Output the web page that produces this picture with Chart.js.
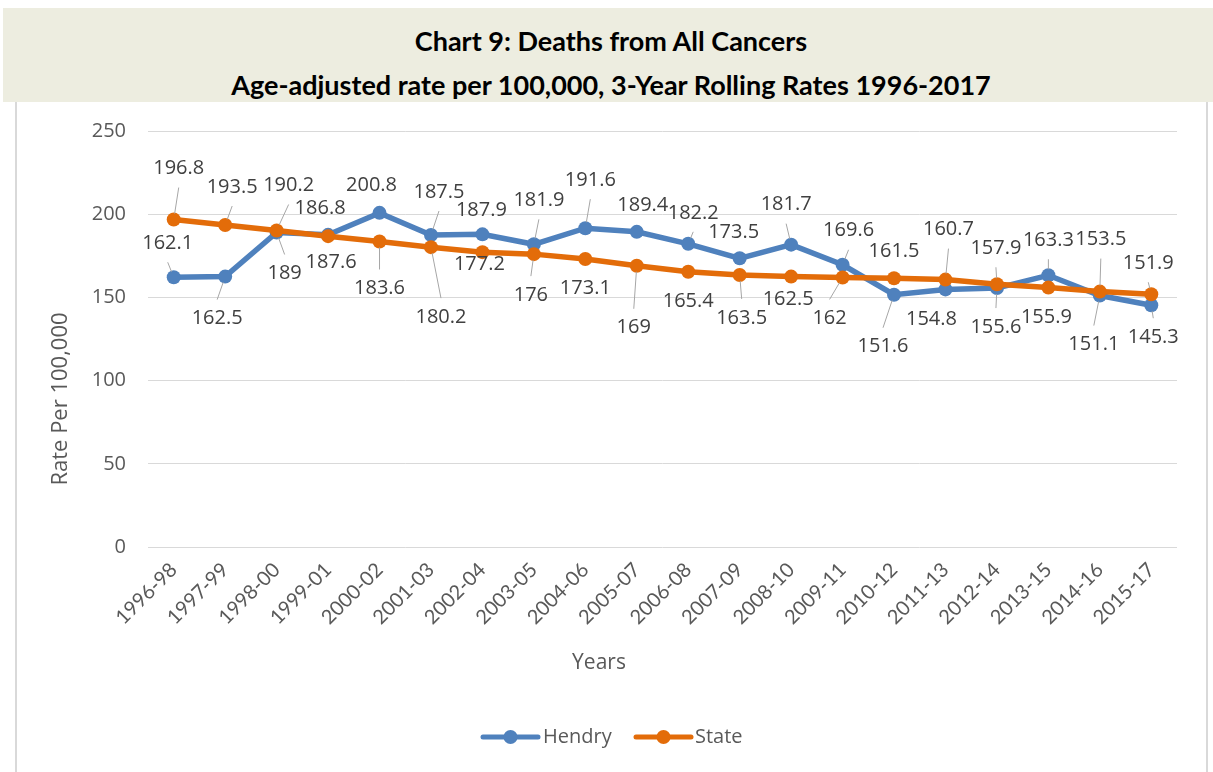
<!DOCTYPE html>
<html>
<head>
<meta charset="utf-8">
<script src="https://cdn.jsdelivr.net/npm/chart.js@4.4.0/dist/chart.umd.min.js"></script>
<style>
  body { margin: 0; background: #fff; }
  #band { position: absolute; left: 3px; top: 8px; width: 1210px; height: 94px; background: #EDEDE0; }
  #frame { position: absolute; left: 15px; top: 102px; width: 1189px; height: 680px; border: 2px solid #D9D9D9; border-top: none; }
  .title { position: absolute; left: 0; width: 1222px; text-align: center; font-family: Lato, "Open Sans", sans-serif; font-weight: bold; font-size: 27px; line-height: 32px; color: #000; }
  #myChart { position: absolute; left: 0; top: 0; }
</style>
</head>
<body>
<div id="band"></div>
<div id="frame"></div>
<div class="title" style="top:25px">Chart 9: Deaths from All Cancers</div>
<div class="title" style="top:69px">Age-adjusted rate per 100,000, 3-Year Rolling Rates 1996-2017</div>
<canvas id="myChart" width="1213" height="772"></canvas>
<script>
const categories = ['1996-98', '1997-99', '1998-00', '1999-01', '2000-02', '2001-03', '2002-04', '2003-05', '2004-06', '2005-07',
    '2006-08', '2007-09', '2008-10', '2009-11', '2010-12', '2011-13', '2012-14', '2013-15', '2014-16', '2015-17'];
const hendry = [162.1, 162.5, 189, 187.6, 200.8, 187.5, 187.9, 181.9, 191.6, 189.4,
    182.2, 173.5, 181.7, 169.6, 151.6, 154.8, 155.6, 163.3, 151.1, 145.3];
const state = [196.8, 193.5, 190.2, 186.8, 183.6, 180.2, 177.2, 176, 173.1, 169,
    165.4, 163.5, 162.5, 162, 161.5, 160.7, 157.9, 155.9, 153.5, 151.9];
const yMin = 0, yMax = 250, yStep = 50;

// where each data label sits, relative to its point (px)
const hendryLabelDx = [-6, -8, 8, 3, -8, 8, -1, 5, 5, 6, 5, -6, -5, 6, -11, -14, -1, 0, -6, 2];
const hendryLabelDy = [-34, 42, 41, 27, -28, -43, -24, -44, -48, -27, -31, -26, -40, -34, 52, 30, 39, -35, 49, 32];
const stateLabelDx = [5, 7, 12, -8, 0, 10, -3, -3, 0, -3, 0, 2, -3, -13, 0, 3, -1, -2, 1, -3];
const stateLabelDy = [-51, -38, -45, -28, 47, 70, 12, 41, 29, 62, 30, 43, 23, 41, -27, -50, -36, 30, -52, -31];

const BLUE = '#4F81BD';
const ORANGE = '#E36C09';

const dataLabels = {
    id: 'dataLabels',
    afterDatasetsDraw(chart) {
        const ctx = chart.ctx;
        ctx.save();
        chart.data.datasets.forEach((ds, i) => {
            const meta = chart.getDatasetMeta(i);
            meta.data.forEach((pt, j) => {
                const dx = ds.labelDx[j], dy = ds.labelDy[j];
                const lx = pt.x + dx, ly = pt.y + dy;
                if (Math.abs(dy) > 30) {
                    const sx = lx, sy = ly + (dy < 0 ? 19 : -19);
                    const vx = sx - pt.x, vy = sy - pt.y;
                    const len = Math.sqrt(vx * vx + vy * vy);
                    if (len > 7) {
                        ctx.beginPath();
                        ctx.strokeStyle = '#A6A6A6';
                        ctx.lineWidth = 1;
                        ctx.moveTo(sx, sy);
                        ctx.lineTo(pt.x + vx / len * 6, pt.y + vy / len * 6);
                        ctx.stroke();
                    }
                }
                ctx.fillStyle = '#404040';
                ctx.font = '20px "Open Sans"';
                ctx.textAlign = 'center';
                ctx.textBaseline = 'middle';
                ctx.fillText(String(ds.data[j]), lx, ly);
            });
        });
        ctx.restore();
    },
    afterDraw(chart) {
        const ctx = chart.ctx;
        ctx.save();
        ctx.fillStyle = '#595959';
        ctx.textAlign = 'center';
        ctx.textBaseline = 'middle';
        ctx.font = '21px "Open Sans"';
        ctx.fillText('Years', 599, 663);
        ctx.save();
        ctx.translate(61, 399);
        ctx.rotate(-Math.PI / 2);
        ctx.font = '22px "Open Sans"';
        ctx.fillText('Rate Per 100,000', 0, 0);
        ctx.restore();

        // legend
        const items = [
            { label: 'Hendry', color: BLUE, x0: 483, x1: 538, tx: 543 },
            { label: 'State', color: ORANGE, x0: 636, x1: 691, tx: 695 }
        ];
        ctx.font = '20px "Open Sans"';
        ctx.textAlign = 'left';
        items.forEach(it => {
            ctx.strokeStyle = it.color;
            ctx.lineWidth = 5;
            ctx.lineCap = 'round';
            ctx.beginPath();
            ctx.moveTo(it.x0, 737);
            ctx.lineTo(it.x1, 737);
            ctx.stroke();
            ctx.fillStyle = it.color;
            ctx.beginPath();
            ctx.arc((it.x0 + it.x1) / 2, 737, 7, 0, Math.PI * 2);
            ctx.fill();
            ctx.fillStyle = '#595959';
            ctx.fillText(it.label, it.tx, 737);
        });
        ctx.restore();
    }
};

const ctx = document.getElementById('myChart').getContext('2d');
const chart = new Chart(ctx, {
    type: 'line',
    data: {
        labels: categories,
        datasets: [{
            label: 'Hendry',
            data: hendry,
            labelDx: hendryLabelDx,
            labelDy: hendryLabelDy,
            borderColor: BLUE,
            backgroundColor: BLUE,
            borderWidth: 5.5,
            pointRadius: 7,
            pointBorderWidth: 0,
            pointHoverRadius: 7,
            tension: 0,
            order: 2
        }, {
            label: 'State',
            data: state,
            labelDx: stateLabelDx,
            labelDy: stateLabelDy,
            borderColor: ORANGE,
            backgroundColor: ORANGE,
            borderWidth: 5.5,
            pointRadius: 7,
            pointBorderWidth: 0,
            pointHoverRadius: 7,
            tension: 0,
            order: 1
        }]
    },
    options: {
        responsive: false,
        animation: false,
        layout: { padding: { top: 131, right: 36, left: 0, bottom: 0 } },
        plugins: {
            legend: { display: false },
            tooltip: { enabled: false }
        },
        scales: {
            x: {
                offset: true,
                grid: { display: false },
                border: { display: false },
                ticks: {
                    color: '#595959',
                    font: { family: 'Lato', size: 20 },
                    maxRotation: 45,
                    minRotation: 45,
                    padding: 3,
                    autoSkip: false
                },
                afterFit(scale) { scale.height = 225; }
            },
            y: {
                min: yMin,
                max: yMax,
                grid: { color: '#D9D9D9', lineWidth: 1, drawTicks: false },
                border: { display: false },
                ticks: {
                    stepSize: yStep,
                    color: '#595959',
                    font: { family: 'Open Sans', size: 20 },
                    padding: 22
                },
                afterFit(scale) { scale.width = 148; }
            }
        }
    },
    plugins: [dataLabels]
});
</script>
</body>
</html>
